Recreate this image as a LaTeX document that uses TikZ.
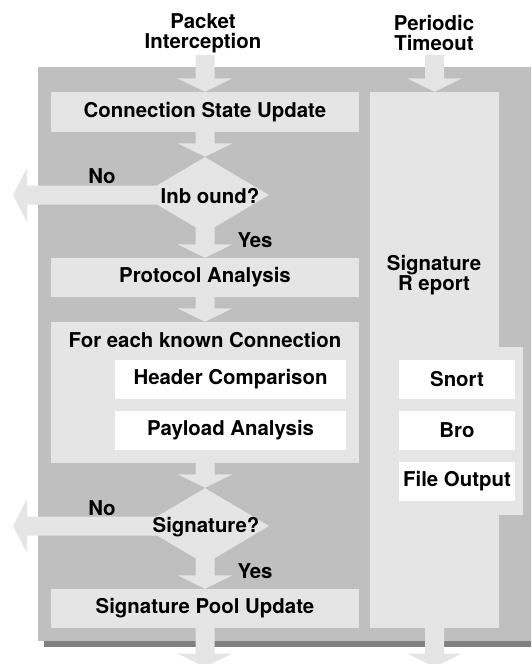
\documentclass[tikz,border=0pt]{standalone}
\usepackage{fontspec}
\setmainfont{TeX Gyre Heros}
\usetikzlibrary{shapes.geometric,calc}
\definecolor{bggray}{HTML}{BFBFBF}
\definecolor{boxgray}{HTML}{E5E5E5}
\definecolor{shadowgray}{HTML}{808080}
\tikzset{
  every node/.style={font=\fontsize{20.4}{20.4}\selectfont\bfseries, text=black},
  lbox/.style={fill=boxgray, inner sep=0, minimum width=#1},
  lbox/.default=308pt,
  wbox/.style={fill=white, inner sep=0, minimum height=39pt, minimum width=#1},
  dia/.style={diamond, fill=boxgray, inner sep=0, minimum width=128pt, minimum height=76pt},
  flowfill/.style={fill=boxgray},
  txt/.style={align=center, inner sep=0}
}
\newcommand{\flowdown}[2]{%
  \fill[flowfill] let \p1=(#1), \p2=(#2) in
    (\x1-9.5pt,\y1) -- (\x1+9.5pt,\y1) -- (\x1+9.5pt,\y2+13.5pt) -- (\x1+27.5pt,\y2+13.5pt)
    -- (\x1,\y2) -- (\x1-27.5pt,\y2+13.5pt) -- (\x1-9.5pt,\y2+13.5pt) -- cycle;}
\newcommand{\flowleft}[2]{%
  \fill[flowfill] let \p1=(#1), \p2=(#2) in
    (\x1,\y1+9.5pt) -- (\x2+14pt,\y1+9.5pt) -- (\x2+14pt,\y1+27pt) -- (\x2,\y1)
    -- (\x2+14pt,\y1-27pt) -- (\x2+14pt,\y1-9.5pt) -- (\x1,\y1-9.5pt) -- cycle;}
\begin{document}
\begin{tikzpicture}[x=1pt, y=-1pt]
\useasboundingbox (0,0) rectangle (531,664);
\clip (0,0) rectangle (531,664);
% background panel with shadow
\fill[shadowgray] (44,641) rectangle (545,647);
\fill[bggray] (38,67) rectangle (545,641);
% right column
\node[lbox=129pt, minimum height=536pt] (rep) at (434.5,360) {};
\node[lbox=153pt, minimum height=168pt] (repx) at (446.5,431) {};
\node[txt] (rept) at (434,275) {Signature\\R eport};
\node[wbox=116pt] (snort) at (457,379.5) {Snort};
\node[wbox=116pt] (bro) at (457,430.5) {Bro};
\node[wbox=116pt] (fo) at (457,481.5) {File Output};
% left column
\node[lbox, minimum height=40pt] (csu) at (205,112) {Connection State Update};
\node[dia] (d1) at (205,195) {};
\node[lbox, minimum height=39pt] (pa) at (205,277.5) {Protocol Analysis};
\node[lbox, minimum height=141pt] (fe) at (205,392.5) {};
\node[txt] (fet) at (205,340) {For each known Connection};
\node[wbox=231pt] (hc) at (230.5,379.5) {Header Comparison};
\node[wbox=231pt] (pl) at (230.5,430.5) {Payload Analysis};
\node[dia] (d2) at (205,526) {};
\node[lbox, minimum height=39pt] (spu) at (205,608.5) {Signature Pool Update};
% free ends
\coordinate (in1) at (205,55);
\coordinate (in2) at (434.5,55);
\coordinate (out1) at (205,667);
\coordinate (out2) at (434.5,667);
\coordinate (no1) at (13,195);
\coordinate (no2) at (13,526);
% flow arrows
\flowdown{in1}{csu.north}
\flowdown{in2}{rep.north}
\flowdown{csu.south}{d1.north}
\flowdown{d1.center}{pa.north}
\flowleft{d1.center}{no1}
\flowdown{pa.south}{fe.north}
\flowdown{fe.south}{d2.north}
\flowdown{d2.center}{spu.north}
\flowleft{d2.center}{no2}
\flowdown{spu.south}{out1}
\flowdown{rep.south}{out2}
% texts
\node[txt] (t1) at (203,33) {Packet\\Interception};
\node[txt] (t2) at (434,33) {Periodic\\Timeout};
\node[txt] (d1t) at (210,196) {Inb ound?};
\node[txt] (d2t) at (206,527) {Signature?};
\node[txt] (no1t) at (102,176) {No};
\node[txt] (yes1t) at (255,240) {Yes};
\node[txt] (no2t) at (102,508) {No};
\node[txt] (yes2t) at (255,571) {Yes};
\end{tikzpicture}
\end{document}
